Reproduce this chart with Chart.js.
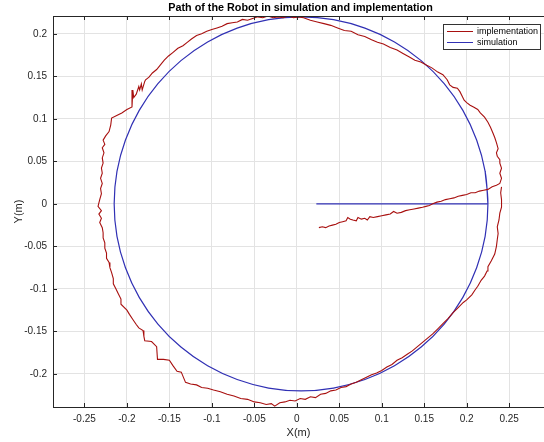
<!DOCTYPE html>
<html>
<head>
<meta charset="utf-8">
<script src="https://cdn.jsdelivr.net/npm/chart.js@4/dist/chart.umd.min.js"></script>
<style>
  body { margin: 0; background: #fff; }
</style>
</head>
<body>
<canvas id="mycanvas" width="544" height="442"></canvas>
<script>
var implX = [0.026,0.03,0.034,0.038,0.042,0.046,0.05,0.054,0.058,0.06,0.063,0.066,0.07,0.072,0.076,0.08,0.083,0.086,0.09,0.095,0.1,0.105,0.11,0.114,0.118,0.123,0.128,0.133,0.138,0.143,0.148,0.152,0.156,0.16,0.165,0.17,0.175,0.18,0.185,0.19,0.195,0.2,0.205,0.21,0.215,0.22,0.225,0.23,0.235,0.239,
  0.241,0.239,0.241,0.239,0.239,0.236,0.235,0.237,0.235,0.233,0.231,0.228,0.225,0.221,0.216,0.213,0.208,0.204,0.2,0.197,0.195,0.192,0.189,0.184,0.18,0.177,0.172,0.166,0.159,0.153,0.146,0.139,0.132,0.125,0.118,0.11,0.102,0.095,0.088,0.08,0.072,0.064,0.056,0.048,0.04,0.032,0.024,0.016,0.008,0.002,-0.004,-0.01,-0.016,-0.022,-0.028,-0.034,-0.04,-0.046,-0.052,-0.058,-0.064,-0.07,-0.076,-0.082,-0.088,-0.094,-0.1,-0.106,-0.112,-0.118,-0.124,-0.129,-0.134,-0.14,-0.146,-0.151,-0.156,-0.161,-0.165,-0.17,-0.174,-0.178,
  -0.179,-0.182,-0.183,-0.185,-0.186,-0.189,-0.192,-0.193,-0.194,-0.2,-0.206,-0.212,-0.218,-0.219,-0.221,-0.225,-0.228,-0.226,-0.229,-0.227,-0.229,-0.228,-0.23,-0.229,-0.231,-0.229,-0.231,-0.23,-0.232,-0.234,-0.23,-0.233,-0.23,-0.232,-0.229,-0.228,-0.228,-0.226,-0.226,-0.224,-0.224,-0.221,-0.22,-0.218,-0.216,-0.216,-0.213,-0.21,-0.207,-0.207,-0.2,-0.197,-0.193,-0.189,-0.186,-0.181,-0.18,-0.179,-0.171,-0.165,-0.164,-0.157,-0.15,-0.146,-0.141,-0.136,-0.131,-0.125,-0.118,-0.112,-0.105,-0.098,-0.09,-0.082,-0.074,-0.066,-0.058,-0.05,-0.043,-0.036,-0.03,-0.026,-0.02,-0.014,-0.008,-0.002,0.004,0.01,0.016,0.022,0.028,0.034,0.04,0.046,0.052,0.058,0.064,0.07,0.076,0.082,0.088,0.094,0.1,0.106,0.112,0.118,0.124,0.13,0.136,0.142,0.148,0.154,0.16,0.166,0.172,0.178,0.184,0.19,0.196,0.2,0.206,0.21,0.213,0.217,0.221,0.224,0.225,0.229,0.233,0.235,0.236,0.237,0.236,0.238,0.239,0.241,0.241,0.24,0.241];
var implY = [-0.028,-0.027,-0.028,-0.026,-0.025,-0.024,-0.022,-0.021,-0.02,-0.016,-0.018,-0.019,-0.02,-0.016,-0.018,-0.017,-0.019,-0.015,-0.016,-0.015,-0.014,-0.013,-0.012,-0.009,-0.011,-0.01,-0.008,-0.007,-0.006,-0.005,-0.004,-0.003,-0.002,0.0,0.002,0.003,0.005,0.006,0.007,0.009,0.01,0.011,0.013,0.013,0.015,0.016,0.017,0.02,0.022,0.024,
  0.03,0.036,0.042,0.048,0.052,0.056,0.06,0.065,0.072,0.078,0.083,0.09,0.096,0.102,0.107,0.111,0.114,0.116,0.119,0.122,0.126,0.132,0.136,0.137,0.14,0.146,0.152,0.155,0.16,0.163,0.167,0.169,0.173,0.177,0.181,0.184,0.188,0.19,0.193,0.197,0.199,0.203,0.204,0.207,0.21,0.212,0.214,0.216,0.219,0.22,0.219,0.221,0.219,0.22,0.219,0.221,0.219,0.22,0.218,0.216,0.217,0.214,0.213,0.212,0.209,0.207,0.205,0.203,0.2,0.198,0.194,0.19,0.186,0.183,0.178,0.174,0.169,0.163,0.158,0.154,0.149,0.146,
  0.144,0.134,0.141,0.134,0.138,0.129,0.125,0.134,0.114,0.111,0.107,0.104,0.101,0.093,0.085,0.08,0.075,0.07,0.066,0.06,0.054,0.048,0.042,0.036,0.03,0.024,0.018,0.012,0.005,-0.003,-0.008,-0.012,-0.017,-0.022,-0.028,-0.034,-0.04,-0.046,-0.052,-0.058,-0.064,-0.069,-0.075,-0.081,-0.088,-0.094,-0.1,-0.106,-0.112,-0.118,-0.125,-0.13,-0.136,-0.142,-0.146,-0.149,-0.156,-0.161,-0.162,-0.168,-0.183,-0.183,-0.184,-0.19,-0.197,-0.198,-0.21,-0.212,-0.213,-0.216,-0.217,-0.219,-0.221,-0.224,-0.226,-0.229,-0.23,-0.233,-0.234,-0.236,-0.235,-0.238,-0.234,-0.233,-0.231,-0.232,-0.229,-0.23,-0.227,-0.228,-0.224,-0.223,-0.22,-0.219,-0.216,-0.215,-0.212,-0.21,-0.207,-0.204,-0.201,-0.199,-0.196,-0.192,-0.189,-0.184,-0.181,-0.177,-0.173,-0.168,-0.163,-0.158,-0.153,-0.147,-0.141,-0.135,-0.128,-0.122,-0.116,-0.113,-0.107,-0.101,-0.097,-0.09,-0.085,-0.079,-0.074,-0.067,-0.059,-0.05,-0.042,-0.035,-0.027,-0.019,-0.011,-0.004,0.005,0.013,0.02];

// simulated path: straight run out to the circle, then the circle itself
var simLineX = [0.023, 0.225];
var simLineY = [0, 0];
var simCircX = [0.225,0.2217,0.2117,0.1955,0.1735,0.1464,0.115,0.0802,0.0432,0.005,-0.0332,-0.0702,-0.105,-0.1364,-0.1635,-0.1855,-0.2017,-0.2117,-0.215,-0.2117,-0.2017,-0.1855,-0.1635,-0.1364,-0.105,-0.0702,-0.0332,0.005,0.0432,0.0802,0.115,0.1464,0.1735,0.1955,0.2117,0.2217,0.225,0.2217];
var simCircY = [0,0.0382,0.0752,0.11,0.1414,0.1685,0.1905,0.2067,0.2167,0.22,0.2167,0.2067,0.1905,0.1685,0.1414,0.11,0.0752,0.0382,0,-0.0382,-0.0752,-0.11,-0.1414,-0.1685,-0.1905,-0.2067,-0.2167,-0.22,-0.2167,-0.2067,-0.1905,-0.1685,-0.1414,-0.11,-0.0752,-0.0382,0,0.0382];

var xTicks = [-0.25,-0.2,-0.15,-0.1,-0.05,0,0.05,0.1,0.15,0.2,0.25];
var yTicks = [-0.2,-0.15,-0.1,-0.05,0,0.05,0.1,0.15,0.2];

function pts(xs, ys) {
  var out = [];
  for (var i in xs) out.push({x: xs[i], y: ys[i]});
  return out;
}
function fmt(v) { return String(+v.toFixed(2)); }

var FONT = "'Liberation Sans', Arial, Helvetica, sans-serif";
var INK = '#262626';

// MATLAB style frame: top line, inward tick marks, title and boxed legend
var matlabFrame = {
  id: 'matlabFrame',
  afterDraw: function(chart) {
    var c = chart.ctx, a = chart.chartArea;
    var xs = chart.scales.x, ys = chart.scales.y;
    c.save();
    c.strokeStyle = INK;
    c.lineWidth = 1;
    c.beginPath();
    c.moveTo(a.left, a.top + 0.5); c.lineTo(a.right, a.top + 0.5);
    xs.ticks.forEach(function(t) {
      var px = Math.round(xs.getPixelForValue(t.value)) + 0.5;
      c.moveTo(px, a.bottom); c.lineTo(px, a.bottom - 4);
      c.moveTo(px, a.top); c.lineTo(px, a.top + 4);
    });
    ys.ticks.forEach(function(t) {
      var py = Math.round(ys.getPixelForValue(t.value)) + 0.5;
      c.moveTo(a.left, py); c.lineTo(a.left + 4, py);
    });
    c.stroke();

    c.fillStyle = '#000';
    c.font = 'bold 10.8px ' + FONT;
    c.textAlign = 'center';
    c.textBaseline = 'middle';
    c.fillText('Path of the Robot in simulation and implementation', (a.left + a.right) / 2 + 2, 8);

    // legend
    var bx = a.right - 101, by = a.top + 8, bw = 97, bh = 25;
    c.fillStyle = '#fff';
    c.fillRect(bx, by, bw, bh);
    c.strokeStyle = '#333';
    c.strokeRect(bx + 0.5, by + 0.5, bw, bh);
    var items = [chart.data.datasets[0], chart.data.datasets[2]];
    c.font = '9px ' + FONT;
    c.textAlign = 'left';
    items.forEach(function(ds, i) {
      var ly = by + 7 + i * 11;
      c.strokeStyle = ds.borderColor;
      c.beginPath();
      c.moveTo(bx + 4, ly + 0.5); c.lineTo(bx + 30, ly + 0.5);
      c.stroke();
      c.fillStyle = '#000';
      c.fillText(ds.label, bx + 34, ly + 1);
    });
    c.restore();
  }
};

var ctx = document.getElementById('mycanvas');
var LineGraph = new Chart(ctx, {
  type: 'scatter',
  data: {
    datasets: [
      { label: 'implementation', data: pts(implX, implY), showLine: true, borderColor: '#a8100f', borderWidth: 1.1, pointRadius: 0, tension: 0 },
      { label: 'simulation-line', data: pts(simLineX, simLineY), showLine: true, borderColor: '#3030b4', borderWidth: 1.2, pointRadius: 0, tension: 0 },
      { label: 'simulation', data: pts(simCircX, simCircY), showLine: true, borderColor: '#3030b4', borderWidth: 1.2, pointRadius: 0, tension: 0.4 }
    ]
  },
  options: {
    responsive: false,
    animation: false,
    devicePixelRatio: 1,
    layout: { padding: { top: 16, left: 0, right: 0, bottom: 0 } },
    plugins: { legend: { display: false }, title: { display: false }, tooltip: { enabled: false } },
    scales: {
      x: {
        type: 'linear', min: -0.287, max: 0.291,
        afterFit: function(s) { s.height = 35; },
        afterBuildTicks: function(s) { s.ticks = xTicks.map(function(v) { return {value: v}; }); },
        grid: { color: '#e3e3e3', drawTicks: false },
        border: { color: INK, width: 1 },
        ticks: { padding: 6, color: INK, font: { family: FONT, size: 10 }, callback: fmt, maxRotation: 0, autoSkip: false },
        title: { display: true, text: 'X(m)', color: INK, font: { family: FONT, size: 11 }, padding: { top: 2, bottom: 2 } }
      },
      y: {
        type: 'linear', min: -0.239, max: 0.221,
        afterFit: function(s) { s.width = 53; },
        afterBuildTicks: function(s) { s.ticks = yTicks.map(function(v) { return {value: v}; }); },
        grid: { color: '#e3e3e3', drawTicks: false },
        border: { color: INK, width: 1 },
        ticks: { padding: 6, color: INK, font: { family: FONT, size: 10 }, callback: fmt, autoSkip: false },
        title: { display: true, text: 'Y(m)', color: INK, font: { family: FONT, size: 11 }, padding: { top: 12, bottom: 2 } }
      }
    }
  },
  plugins: [matlabFrame]
});
</script>
</body>
</html>
